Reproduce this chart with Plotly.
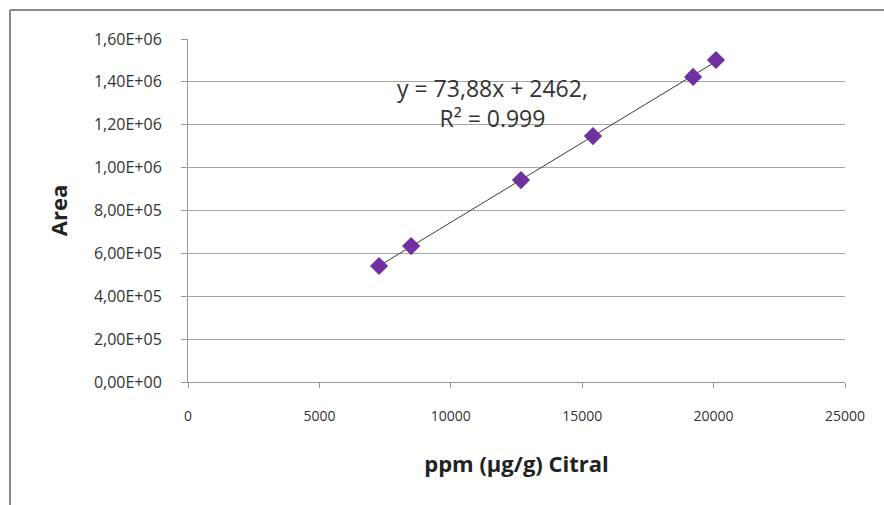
import numpy as np
import plotly.graph_objects as go

# Data
ppm = [7270, 8490, 12670, 15410, 19220, 20090]
area = [541000, 634000, 942000, 1147000, 1423000, 1502000]

y_tick_vals = [0, 200000, 400000, 600000, 800000, 1000000, 1200000, 1400000, 1600000]
y_tick_text = ["0,00E+00", "2,00E+05", "4,00E+05", "6,00E+05", "8,00E+05",
               "1,00E+06", "1,20E+06", "1,40E+06", "1,60E+06"]
x_tick_vals = [0, 5000, 10000, 15000, 20000, 25000]
x_tick_text = ["0", "5000", "10000", "15000", "20000", "25000"]

eq_text = "y = 73,88x + 2462,<br>R² = 0.999"

# Linear trendline fitted to the data
slope, intercept = np.polyfit(ppm, area, 1)
trend_x = [min(ppm), max(ppm)]
trend_y = [slope * v + intercept for v in trend_x]

fig = go.Figure()
fig.add_trace(go.Scatter(x=trend_x, y=trend_y, mode="lines",
                         line=dict(color="#3a3a3a", width=1), hoverinfo="skip"))
fig.add_trace(go.Scatter(x=ppm, y=area, mode="markers",
                         marker=dict(symbol="diamond", size=14, color="#7030a0",
                                     line=dict(width=0))))

font_family = "Open Sans, sans-serif"

fig.update_layout(
    width=884, height=505,
    margin=dict(l=188, r=39, t=39, b=123),
    paper_bgcolor="white", plot_bgcolor="white",
    showlegend=False,
    font=dict(family=font_family, color="#333333"),
    xaxis=dict(range=[0, 25000], tickvals=x_tick_vals, ticktext=x_tick_text,
               showgrid=False, zeroline=False, showline=True, linecolor="#999999",
               linewidth=1, ticks="outside", ticklen=5, tickcolor="#999999",
               tickfont=dict(size=14, color="#333333"), ticklabelstandoff=16,
               title=dict(text="<b>ppm (µg/g) Citral</b>", font=dict(size=22, color="#222222"),
                          standoff=32)),
    yaxis=dict(range=[0, 1600000], tickvals=y_tick_vals, ticktext=y_tick_text,
               showgrid=True, gridcolor="#a6a6a6", gridwidth=1, zeroline=False,
               showline=True, linecolor="#999999", linewidth=1,
               ticks="outside", ticklen=6, tickcolor="#999999",
               tickfont=dict(size=16, color="#333333"), ticklabelstandoff=16,
               title=dict(text="<b>Area</b>", font=dict(size=22, color="#222222"),
                          standoff=20)),
)

fig.add_annotation(x=0.463, y=0.813, xref="paper", yref="paper", text=eq_text,
                   showarrow=False, align="center", xanchor="center", yanchor="middle",
                   font=dict(family=font_family, size=23, color="#333333"))

# Outer frame (left and top edges)
fig.add_shape(type="line", xref="paper", yref="paper", x0=-0.2709, x1=1.07, y0=1.0845, y1=1.0845,
              line=dict(color="#8a8a8a", width=2))
fig.add_shape(type="line", xref="paper", yref="paper", x0=-0.2709, x1=-0.2709, y0=1.0845, y1=-0.36,
              line=dict(color="#8a8a8a", width=2))

fig.write_html("out.html")
